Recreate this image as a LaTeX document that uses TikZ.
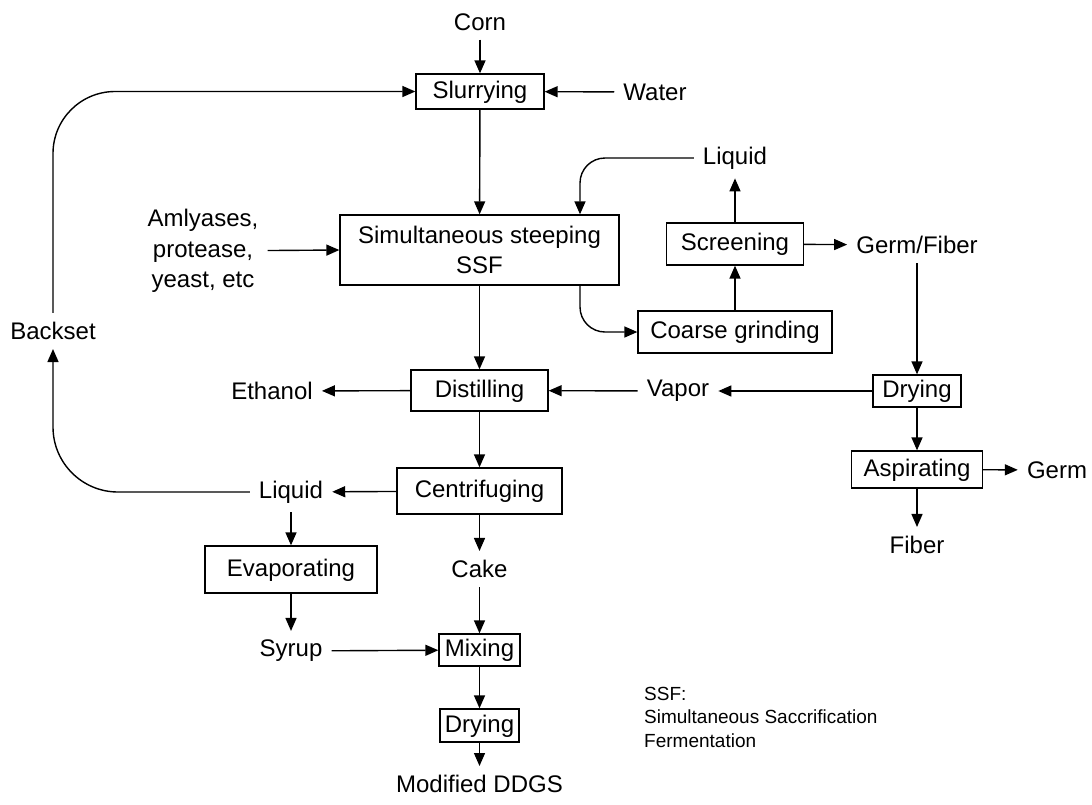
\documentclass[tikz,border=0pt]{standalone}
\usepackage{fontspec}
\setmainfont{Liberation Sans}
\usetikzlibrary{arrows.meta}
\tikzset{
  procbox/.style={draw, line width=1.3pt, inner sep=2pt, text height=17pt, text depth=4pt, font=\fontsize{24}{30}\selectfont},
  stream/.style={inner sep=9pt, font=\fontsize{24}{30.5}\selectfont},
  flow/.style={-{Triangle[length=13pt,width=11pt]}, line width=1.4pt},
}

\begin{document}
\begin{tikzpicture}[x=1pt,y=-1pt]
    \useasboundingbox (0,0) rectangle (1092,804);

    % Process steps
    \node[procbox, minimum width=128pt, minimum height=35pt] (slurry) at (480,91.5) {Slurrying};
    \node[procbox, minimum width=279pt, minimum height=70pt, align=center, text height=, text depth=] (ssf) at (479.5,250) {Simultaneous steeping\\SSF};
    \node[procbox, minimum width=137pt, minimum height=42pt] (screen) at (735,244) {Screening};
    \node[procbox, minimum width=194pt, minimum height=42pt] (coarse) at (735,332) {Coarse grinding};
    \node[procbox, minimum width=137pt, minimum height=41pt] (distil) at (479.5,390.5) {Distilling};
    \node[procbox, minimum width=165pt, minimum height=46pt] (centri) at (479.5,491) {Centrifuging};
    \node[procbox, minimum width=172pt, minimum height=47pt] (evap) at (291,569.5) {Evaporating};
    \node[procbox, minimum width=81pt, minimum height=32pt] (mix) at (479.5,650) {Mixing};
    \node[procbox, minimum width=79pt, minimum height=33pt] (dryb) at (479.5,725.5) {Drying};
    \node[procbox, minimum width=88pt, minimum height=32pt] (dryr) at (917,391) {Drying};
    \node[procbox, minimum width=131pt, minimum height=37pt] (aspir) at (917,469.5) {Aspirating};

    % Streams
    \node[stream] (corn) at (480,22) {Corn};
    \node[stream] (water) at (655,92) {Water};
    \node[stream, align=center] (amly) at (203,251) {Amlyases,\\protease,\\yeast, etc};
    \node[stream] (liqtop) at (735,158) {Liquid};
    \node[stream] (germfib) at (917,245) {Germ/Fiber};
    \node[stream] (backset) at (53,331) {Backset};
    \node[stream] (ethanol) at (272,391) {Ethanol};
    \node[stream] (vapor) at (678,391) {Vapor};
    \node[stream] (liqlow) at (291,492) {Liquid};
    \node[stream] (cake) at (479.5,569) {Cake};
    \node[stream] (syrup) at (291,651) {Syrup};
    \node[stream] (ddgs) at (479.5,784) {Modified DDGS};
    \node[stream] (germ) at (1057,470) {Germ};
    \node[stream] (fiber) at (917,545) {Fiber};

    % Note
    \node[anchor=west, align=left, inner sep=0pt, font=\fontsize{19}{23.5}\selectfont] (note) at (644,717) {SSF:\\Simultaneous Saccrification\\Fermentation};

    % Steeping and fermentation
    \draw[flow] (corn) -- (slurry);
    \draw[flow] (water) -- (slurry);
    \draw[flow, rounded corners=62pt] (backset.north) |- (slurry.west);
    \draw[flow] (slurry) -- (ssf);
    \draw[flow] (amly) -- (ssf.west);
    \draw[flow, rounded corners=25pt] (liqtop.west) -| ([xshift=100.5pt]ssf.north);

    % Germ and fiber recovery
    \draw[flow, rounded corners=25pt] ([xshift=100.5pt]ssf.south) |- (coarse.west);
    \draw[flow] (coarse) -- (screen);
    \draw[flow] (screen) -- (liqtop);
    \draw[flow] (screen) -- (germfib);
    \draw[flow] (germfib) -- (dryr);
    \draw[flow] (dryr) -- (aspir);
    \draw[flow] (aspir) -- (germ);
    \draw[flow] (aspir) -- (fiber);
    \draw[flow] (dryr) -- (vapor);

    % Distillation and co-products
    \draw[flow] (vapor) -- (distil);
    \draw[flow] (ssf) -- (distil);
    \draw[flow] (distil) -- (ethanol);
    \draw[flow] (distil) -- (centri);
    \draw[flow] (centri) -- (liqlow);
    \draw[flow, rounded corners=65pt] (liqlow.west) -| (backset.south);
    \draw[flow] (liqlow) -- (evap);
    \draw[flow] (evap) -- (syrup);
    \draw[flow] (centri) -- (cake);
    \draw[flow] (cake) -- (mix);
    \draw[flow] (syrup) -- (mix);
    \draw[flow] (mix) -- (dryb);
    \draw[flow] (dryb) -- (ddgs);

\end{tikzpicture}
\end{document}
